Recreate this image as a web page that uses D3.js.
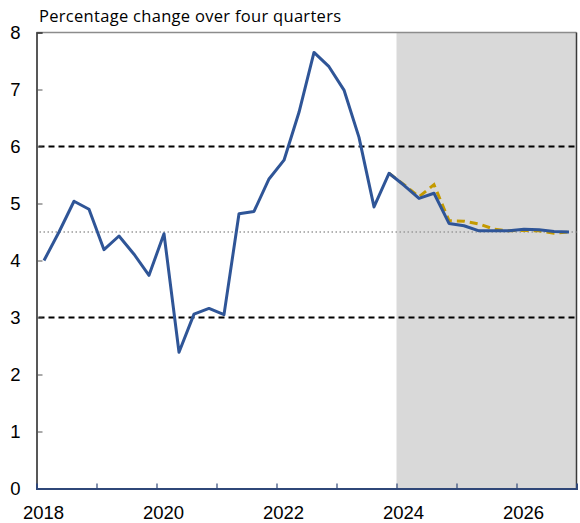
<!DOCTYPE html>
<html>
<head>
<meta charset="utf-8">
<script src="https://cdn.jsdelivr.net/npm/d3@7"></script>
<style>
    body { margin: 0; background: #fff; }
    svg { display: block; }
</style>
</head>
<body>
<div id="chart"></div>
<script>
const quarters = [
    "2018Q1", "2018Q2", "2018Q3", "2018Q4", "2019Q1", "2019Q2", "2019Q3", "2019Q4",
    "2020Q1", "2020Q2", "2020Q3", "2020Q4", "2021Q1", "2021Q2", "2021Q3", "2021Q4",
    "2022Q1", "2022Q2", "2022Q3", "2022Q4", "2023Q1", "2023Q2", "2023Q3", "2023Q4",
    "2024Q1", "2024Q2", "2024Q3", "2024Q4", "2025Q1", "2025Q2", "2025Q3", "2025Q4",
    "2026Q1", "2026Q2", "2026Q3", "2026Q4"
];

// current projection (blue)
const current = [
    4.00, 4.50, 5.04, 4.90, 4.19, 4.43, 4.11, 3.74,
    4.47, 2.39, 3.06, 3.16, 3.05, 4.82, 4.86, 5.43,
    5.76, 6.60, 7.65, 7.40, 6.99, 6.16, 4.94, 5.53,
    5.32, 5.09, 5.18, 4.65, 4.61, 4.52, 4.52, 4.52,
    4.55, 4.54, 4.51, 4.50
];

// previous projection (dashed gold), starts 2023Q4
const previousQuarters = [
    "2023Q4", "2024Q1", "2024Q2", "2024Q3", "2024Q4", "2025Q1", "2025Q2",
    "2025Q3", "2025Q4", "2026Q1", "2026Q2", "2026Q3", "2026Q4"
];
const previous = [5.53, 5.33, 5.12, 5.33, 4.70, 4.69, 4.64, 4.55, 4.52, 4.53, 4.52, 4.48, 4.50];

const yTicks = [0, 1, 2, 3, 4, 5, 6, 7, 8];
const yearTicks = [2019, 2020, 2021, 2022, 2023, 2024, 2025, 2026];
const yearLabels = [2018, 2020, 2022, 2024, 2026];
const bandLines = [3, 6];
const midLine = 4.5;
const projectionStart = 2024;
const yTitle = "Percentage change over four quarters";

const width = 580, height = 523;
const margin = { top: 32.5, right: 3.5, bottom: 34.5, left: 36.5 };

const svg = d3.select("#chart").append("svg")
    .attr("width", width)
    .attr("height", height)
    .style("font-family", "'Liberation Sans', Arial, sans-serif");

const x = d3.scaleBand()
    .domain(quarters)
    .range([margin.left, width - margin.right])
    .padding(0);

const xYear = d3.scaleLinear()
    .domain([2018, 2027])
    .range([margin.left, width - margin.right]);

const y = d3.scaleLinear()
    .domain([0, 8])
    .range([height - margin.bottom, margin.top]);

const cx = d => x(d) + x.bandwidth() / 2;

// shaded projection period
svg.append("rect")
    .attr("x", xYear(projectionStart))
    .attr("y", y(8))
    .attr("width", xYear(2027) - xYear(projectionStart))
    .attr("height", y(0) - y(8))
    .attr("fill", "#d9d9d9");

// frame: top and right
svg.append("line")
    .attr("x1", margin.left).attr("x2", width - margin.right)
    .attr("y1", y(8)).attr("y2", y(8))
    .attr("stroke", "#8c8c8c").attr("stroke-width", 1.5);
svg.append("line")
    .attr("x1", width - margin.right).attr("x2", width - margin.right)
    .attr("y1", y(8)).attr("y2", y(0))
    .attr("stroke", "#3a3a3a").attr("stroke-width", 1.5);

svg.append("g")
    .selectAll("line")
    .data(bandLines)
    .join("line")
    .attr("x1", margin.left + 2).attr("x2", width - margin.right)
    .attr("y1", d => y(d)).attr("y2", d => y(d))
    .attr("stroke", "#000")
    .attr("stroke-width", 1.8)
    .attr("stroke-dasharray", "6,4");

svg.append("line")
    .attr("x1", margin.left + 3).attr("x2", width - margin.right)
    .attr("y1", y(midLine)).attr("y2", y(midLine))
    .attr("stroke", "#9a9a9a")
    .attr("stroke-width", 1.3)
    .attr("stroke-dasharray", "1.5,2.5");

// y axis
const yAxis = svg.append("g")
    .attr("transform", `translate(${margin.left},0)`)
    .call(d3.axisLeft(y).tickValues(yTicks).tickSize(-6).tickPadding(16).tickFormat(d3.format("d")));
yAxis.select(".domain").attr("stroke", "#222").attr("stroke-width", 1.5);
yAxis.selectAll(".tick line").attr("stroke", "#555");
yAxis.selectAll("text").attr("font-size", 18.5).attr("fill", "#000");

// x axis
const xAxis = svg.append("g")
    .attr("transform", `translate(0,${y(0)})`)
    .call(d3.axisBottom(xYear).tickValues(yearTicks).tickSize(-5).tickFormat(""));
xAxis.select(".domain").attr("stroke", "#2f4778").attr("stroke-width", 2);
xAxis.selectAll(".tick line").attr("stroke", "#2f4778").attr("stroke-width", 1.2);

svg.append("g")
    .selectAll("text")
    .data(yearLabels)
    .join("text")
    .attr("x", d => xYear(d) + 7)
    .attr("y", y(0) + 30)
    .attr("text-anchor", "middle")
    .attr("font-size", 18.5)
    .attr("fill", "#000")
    .text(d => d);

const line = d3.line()
    .x(d => cx(d.q))
    .y(d => y(d.v));

svg.append("path")
    .datum(previousQuarters.map((q, i) => ({ q, v: previous[i] })))
    .attr("d", line)
    .attr("fill", "none")
    .attr("stroke", "#c49a00")
    .attr("stroke-width", 3)
    .attr("stroke-dasharray", "8,5");

svg.append("path")
    .datum(quarters.map((q, i) => ({ q, v: current[i] })))
    .attr("d", line)
    .attr("fill", "none")
    .attr("stroke", "#2f5597")
    .attr("stroke-width", 3)
    .attr("stroke-linejoin", "round");

svg.append("text")
    .attr("x", 39)
    .attr("y", 22)
    .attr("font-family", "'Open Sans', sans-serif")
    .attr("font-size", 16.5)
    .attr("letter-spacing", 0.3)
    .attr("fill", "#000")
    .text(yTitle);
</script>
</body>
</html>
